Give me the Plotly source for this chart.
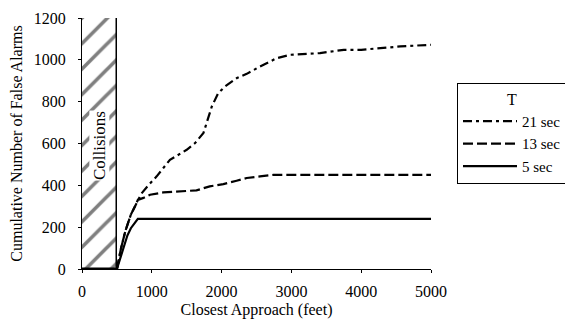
import plotly.graph_objects as go

# ---- data ----
x_5 = [500, 550, 600, 650, 700, 750, 800, 5000]
y_5 = [0, 50, 110, 160, 195, 220, 240, 240]

x_13 = [500, 560, 620, 700, 760, 800, 880, 975, 1165, 1400, 1640, 1830, 2025, 2215, 2360, 2550, 2740, 3000, 5000]
y_13 = [0, 100, 180, 260, 300, 330, 340, 355, 366, 371, 376, 395, 406, 422, 435, 443, 450, 450, 450]

x_21 = [500, 560, 620, 700, 760, 800, 850, 950, 1070, 1260, 1500, 1620, 1740, 1860, 1950, 2050, 2220, 2360,
        2550, 2790, 2980, 3410, 3750, 4000, 4270, 4560, 5000]
y_21 = [0, 100, 180, 260, 300, 330, 360, 400, 443, 522, 570, 602, 650, 777, 840, 873, 913, 933,
        968, 1008, 1024, 1032, 1048, 1048, 1056, 1064, 1072]

collision_x = [250]
collision_width = [500]
collision_height = [1200]

x_ticks = [0, 1000, 2000, 3000, 4000, 5000]
y_ticks = [0, 200, 400, 600, 800, 1000, 1200]

FONT = "'Times New Roman', 'Liberation Serif', 'DejaVu Serif', serif"

fig = go.Figure()

fig.add_trace(go.Bar(
    x=collision_x, y=collision_height, width=collision_width,
    marker=dict(color="white", line=dict(color="black", width=1.5),
                pattern=dict(shape="/", fgcolor="black", bgcolor="white", size=18, solidity=0.2)),
    cliponaxis=False, showlegend=False, hoverinfo="skip"))

fig.add_trace(go.Scatter(x=x_21, y=y_21, mode="lines", name="21 sec",
                         line=dict(color="black", width=2.2, dash="9px,4px,3px,4px")))
fig.add_trace(go.Scatter(x=x_13, y=y_13, mode="lines", name="13 sec",
                         line=dict(color="black", width=2.2, dash="10px,4px")))
fig.add_trace(go.Scatter(x=x_5, y=y_5, mode="lines", name="5 sec",
                         line=dict(color="black", width=2.2)))

fig.add_annotation(x=250, y=590, text="Collisions", textangle=-90, showarrow=False,
                   font=dict(family=FONT, size=17, color="black"), bgcolor="white", borderpad=0)

# page body adds an 8px offset; margins compensate
fig.update_layout(
    width=565, height=314,
    margin=dict(l=74, r=142, t=10, b=53, autoexpand=False),
    paper_bgcolor="white", plot_bgcolor="white",
    font=dict(family=FONT, size=16, color="black"),
    bargap=0,
    legend=dict(
        title=dict(text="T", side="top center", font=dict(family=FONT, size=16)),
        x=1.0745, y=0.741, xanchor="left", yanchor="top",
        bordercolor="black", borderwidth=1, bgcolor="white",
        font=dict(family=FONT, size=15), tracegroupgap=0, itemwidth=54,
    ),
    xaxis=dict(range=[0, 5000], tickvals=x_ticks, showgrid=False, zeroline=False,
               showline=True, linecolor="black", linewidth=1.2, automargin=False,
               ticks="outside", ticklen=3, tickcolor="black",
               ticklabelstandoff=5,
               title=dict(text="Closest Approach (feet)", font=dict(family=FONT, size=16), standoff=4)),
    yaxis=dict(range=[0, 1200], tickvals=y_ticks, showgrid=False, zeroline=False,
               showline=True, linecolor="black", linewidth=1.2, automargin=False,
               ticks="outside", ticklen=3, tickcolor="black",
               ticklabelstandoff=9,
               title=dict(text="Cumulative Number of False Alarms", font=dict(family=FONT, size=16), standoff=8)),
)

fig.write_html("out.html")
